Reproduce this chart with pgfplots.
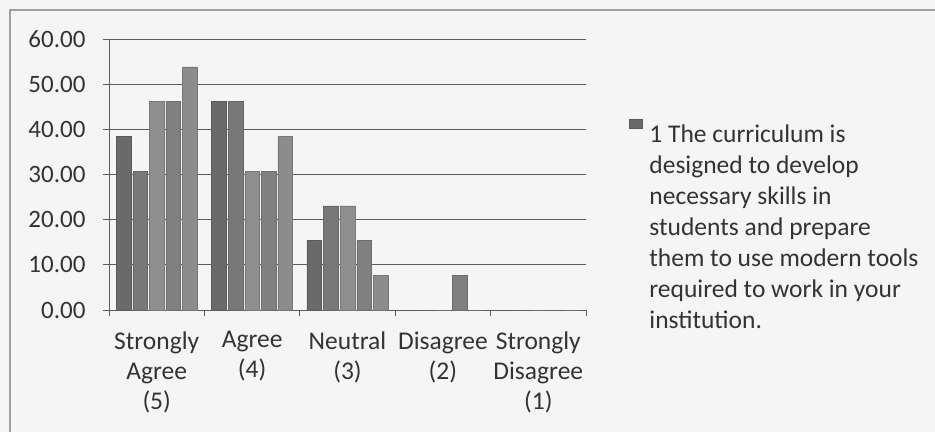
\documentclass[border=0pt]{standalone}
\usepackage{pgfplots}
\pgfplotsset{compat=1.18}
\usetikzlibrary{calc,backgrounds}
\usepackage{fontspec}
\setmainfont{Carlito}
\definecolor{gA}{HTML}{6A6A6A}
\definecolor{gB}{HTML}{787878}
\definecolor{gC}{HTML}{8E8E8E}
\definecolor{gD}{HTML}{808080}
\definecolor{gE}{HTML}{8C8C8C}
\definecolor{gridc}{HTML}{5C5C5C}
\definecolor{txt}{HTML}{333333}
\begin{document}
\begin{tikzpicture}[x=1pt,y=1pt]
\begin{axis}[
  scale only axis, width=477pt, height=271pt,
  ymin=0, ymax=60, xmin=-0.5, xmax=4.5,
  ybar, bar width=14.6pt,
  axis x line*=bottom, axis y line*=left,
  axis line style={gridc, line width=0.9pt, -},
  ytick={0,10,...,60},
  yticklabel={\pgfmathprintnumber[fixed,fixed zerofill,precision=2]{\tick}},
  /pgf/number format/assume math mode=true,
  ymajorgrids, grid style={gridc, line width=0.9pt},
  tick align=outside, major tick length=6pt,
  tick style={gridc, line width=0.9pt},
  xtick={-0.5,0.5,...,4.5},
  x tick label as interval,
  xticklabels={{Strongly\\Agree\\(5)},{Agree\\(4)},{Neutral\\(3)},{Disagree\\(2)},{Strongly\\Disagree\\(1)}},
  x tick label style={align=center, font=\fontsize{25.5}{30}\selectfont, text=txt, yshift=-12pt},
  y tick label style={font=\fontsize{25}{30}\selectfont, text=txt, xshift=-14pt},
  legend style={at={(rel axis cs:1.09,0.704)}, anchor=north west, draw=none, fill=none,
    inner sep=0pt, nodes={inner sep=0pt}, /tikz/column sep=7pt,
    font=\fontsize{25.5}{31}\selectfont, text=txt},
  legend cell align=left,
  legend image code/.code={\fill[#1] (0pt,4pt) rectangle (13pt,13pt);},
  clip=false,
]
\addplot[fill=gA, draw=gA!85!black, line width=0.3pt] coordinates {(0,38.46) (1,46.15) (2,15.38) (3,0) (4,0)};
\addlegendentry{\begin{tabular}[t]{@{}l@{}}1 The curriculum is\\designed to develop\\necessary skills in\\students and prepare\\them to use modern tools\\required to work in your\\institution.\end{tabular}}
\addplot[fill=gB, draw=gB!85!black, line width=0.3pt] coordinates {(0,30.77) (1,46.15) (2,23.08) (3,0) (4,0)};
\addplot[fill=gC, draw=gC!85!black, line width=0.3pt] coordinates {(0,46.15) (1,30.77) (2,23.08) (3,0) (4,0)};
\addplot[fill=gD, draw=gD!85!black, line width=0.3pt] coordinates {(0,46.15) (1,30.77) (2,15.38) (3,7.69) (4,0)};
\addplot[fill=gE, draw=gE!85!black, line width=0.3pt] coordinates {(0,53.85) (1,38.46) (2,7.69) (3,0) (4,0)};
\coordinate (O) at (rel axis cs:0,0);
\end{axis}
\begin{pgfonlayer}{background}
\fill[white!96!black] ($(O)+(-109,-122)$) rectangle ($(O)+(826,310)$);
\draw[gray!75, line width=1.2pt] ($(O)+(-99,-122)$) -- ($(O)+(-99,300)$) -- ($(O)+(826,300)$);
\end{pgfonlayer}
\pgfresetboundingbox
\path[use as bounding box] ($(O)+(-109,-122)$) rectangle ($(O)+(826,310)$);
\end{tikzpicture}
\end{document}
